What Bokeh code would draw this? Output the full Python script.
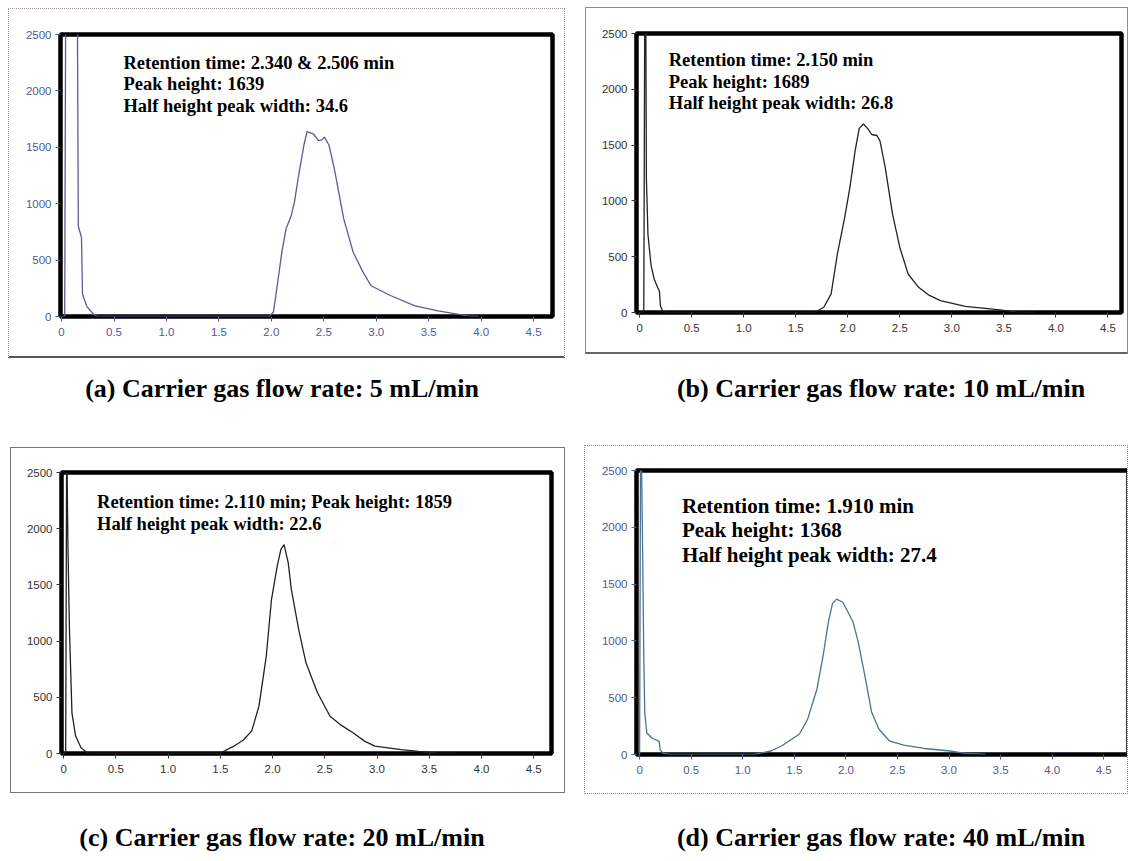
from bokeh.plotting import figure
from bokeh.layouts import row, column
from bokeh.models import Div, Label, FixedTicker, CustomJSTickFormatter, Range1d
from bokeh.embed import file_html
from bokeh.resources import INLINE

# Chromatograms: retention time (min) vs detector response, one per carrier gas flow rate
time_5 = [0.0, 0.03, 0.04, 0.15, 0.16, 0.19, 0.2, 0.24, 0.3, 0.34,
          1.98, 2.02, 2.06, 2.1, 2.14, 2.19, 2.22, 2.26, 2.31, 2.34, 2.4,
          2.45, 2.48, 2.506, 2.55, 2.6, 2.69, 2.78, 2.87, 2.95, 3.14, 3.37, 3.59, 3.87, 3.98]
signal_5 = [0, 0, 2900, 2900, 800, 700, 200, 90, 25, 0,
            0, 40, 300, 570, 777, 896, 1014, 1252, 1518, 1639, 1620,
            1560, 1565, 1590, 1518, 1311, 866, 570, 400, 273, 184, 95, 50, 6, 0]

time_10 = [0.0, 0.04, 0.05, 0.06, 0.065, 0.08, 0.11, 0.14, 0.17, 0.19, 0.2, 0.22, 0.25,
           1.68, 1.77, 1.84, 1.9, 1.97, 2.02, 2.07, 2.11, 2.15, 2.19, 2.23, 2.28, 2.31,
           2.36, 2.43, 2.5, 2.58, 2.68, 2.78, 2.89, 3.13, 3.46, 3.63, 3.8]
signal_10 = [0, 0, 2900, 2500, 1200, 700, 420, 300, 230, 190, 60, 15, 0,
             0, 47, 167, 524, 851, 1119, 1446, 1650, 1689, 1650, 1595, 1586, 1536,
             1298, 881, 583, 345, 226, 155, 107, 54, 24, 3, 0]

time_20 = [0.0, 0.02, 0.03, 0.04, 0.056, 0.08, 0.115, 0.167, 0.22, 0.25,
           1.49, 1.63, 1.72, 1.8, 1.87, 1.94, 1.99, 2.045, 2.08, 2.11, 2.15, 2.18, 2.25,
           2.32, 2.43, 2.55, 2.66, 2.77, 2.88, 2.98, 3.23, 3.4, 3.57, 3.75]
signal_20 = [0, 0, 2900, 1936, 1104, 362, 155, 51, 12, 0,
             0, 65, 120, 199, 421, 867, 1372, 1669, 1817, 1859, 1698, 1460, 1104,
             807, 540, 332, 250, 184, 110, 65, 35, 18, 3, 0]

time_40 = [0.0, 0.01, 0.02, 0.03, 0.04, 0.05, 0.07, 0.12, 0.19, 0.2, 0.23, 0.3,
           1.11, 1.28, 1.38, 1.55, 1.63, 1.72, 1.78, 1.83, 1.87, 1.91, 1.97, 2.02,
           2.07, 2.12, 2.19, 2.25, 2.32, 2.42, 2.56, 2.76, 2.99, 3.16, 3.36]
signal_40 = [0, 2900, 2500, 1750, 900, 370, 190, 145, 115, 40, 10, 0,
             0, 33, 77, 180, 312, 577, 872, 1166, 1328, 1368, 1340, 1254,
             1166, 989, 665, 371, 224, 121, 82, 53, 33, 10, 0]

x_ticks = [0, 0.5, 1.0, 1.5, 2.0, 2.5, 3.0, 3.5, 4.0, 4.5]
y_ticks = [0, 500, 1000, 1500, 2000, 2500]

notes_5 = ["Retention time: 2.340 & 2.506 min", "Peak height: 1639", "Half height peak width: 34.6"]
notes_10 = ["Retention time: 2.150 min", "Peak height: 1689", "Half height peak width: 26.8"]
notes_20 = ["Retention time: 2.110 min; Peak height: 1859", "Half height peak width: 22.6"]
notes_40 = ["Retention time: 1.910 min", "Peak height: 1368", "Half height peak width: 27.4"]

captions = ["(a) Carrier gas flow rate: 5 mL/min", "(b) Carrier gas flow rate: 10 mL/min",
            "(c) Carrier gas flow rate: 20 mL/min", "(d) Carrier gas flow rate: 40 mL/min"]

SERIF = "Liberation Serif"
SANS = "Liberation Sans"


def panel(t, s, notes, note_x, note_y, note_size, x_start, x_end, width, height,
          borders, margin, line_color, tick_color, frame_css):
    p = figure(width=width, height=height, output_backend="svg", toolbar_location=None,
               x_range=Range1d(x_start, x_end), y_range=Range1d(0, 2500),
               min_border_left=borders[0], min_border_top=borders[1],
               min_border_right=borders[2], min_border_bottom=borders[3],
               margin=margin, styles=frame_css)
    p.line(t, s, line_color=line_color, line_width=1.3)
    p.xgrid.visible = False
    p.ygrid.visible = False
    p.outline_line_color = "black"
    p.outline_line_width = 4.5
    p.background_fill_color = "white"
    p.border_fill_color = "white"

    p.xaxis.ticker = FixedTicker(ticks=x_ticks)
    p.xaxis.formatter = CustomJSTickFormatter(code="return tick == 0 ? '0' : tick.toFixed(1);")
    p.yaxis.ticker = FixedTicker(ticks=y_ticks)
    for ax in (p.xaxis[0], p.yaxis[0]):
        ax.axis_line_color = None
        ax.major_tick_line_color = tick_color
        ax.major_tick_out = 5
        ax.major_tick_in = 0
        ax.minor_tick_line_color = None
        ax.major_label_text_font = SANS
        ax.major_label_text_font_size = "11.5px"
        ax.major_label_text_color = tick_color
    p.xaxis.major_label_standoff = 6
    p.yaxis.major_label_standoff = 4

    for i, line in enumerate(notes):
        p.add_layout(Label(x=note_x, y=note_y[i], text=line, text_font=SERIF,
                           text_font_style="bold", text_font_size=note_size,
                           text_color="black", text_baseline="middle"))
    return p


def caption(text, left, width, top):
    return Div(text=text, width=width, height=32, margin=(top, 0, 0, left),
               styles={"font-family": SERIF, "font-weight": "bold", "font-size": "26px",
                       "text-align": "center", "line-height": "32px", "white-space": "nowrap"})


pa = panel(time_5, signal_5, notes_5, 0.59, [2250, 2064, 1868], "18.5px", -0.01, 4.68,
           557, 350, (51, 25, 14, 43), (8, 0, 0, 8), "#5d5a98", "#4f5a96",
           {"border": "1px dotted #a894b0", "border-bottom": "2px solid #555"})
pb = panel(time_10, signal_10, notes_10, 0.28, [2259, 2063, 1875], "18.5px", -0.03, 4.63,
           543, 347, (50, 25, 8, 42), (7, 0, 0, 20), "#222222", "#333333",
           {"border": "1px solid #8c8c8c", "border-bottom": "2px solid #666"})
pc = panel(time_20, signal_20, notes_20, 0.32, [2239, 2045], "18.5px", -0.02, 4.67,
           555, 346, (50, 24, 15, 41), (42, 0, 0, 10), "#222222", "#333333",
           {"border": "1px solid #777"})
pd = panel(time_40, signal_40, notes_40, 0.41, [2188, 1976, 1755], "21px", -0.03, 4.75,
           544, 349, (51, 24, 0, 41), (40, 0, 0, 19), "#4a7396", "#4f5a96",
           {"border": "1px dotted #a07ab0"})

caps_top = row(caption(captions[0], 62, 440, 15), caption(captions[1], 159, 440, 15))
caps_bottom = row(caption(captions[2], 62, 440, 28), caption(captions[3], 159, 440, 28))

layout = column(row(pa, pb), caps_top, row(pc, pd), caps_bottom)

open("out.html", "w").write(file_html(layout, INLINE))
